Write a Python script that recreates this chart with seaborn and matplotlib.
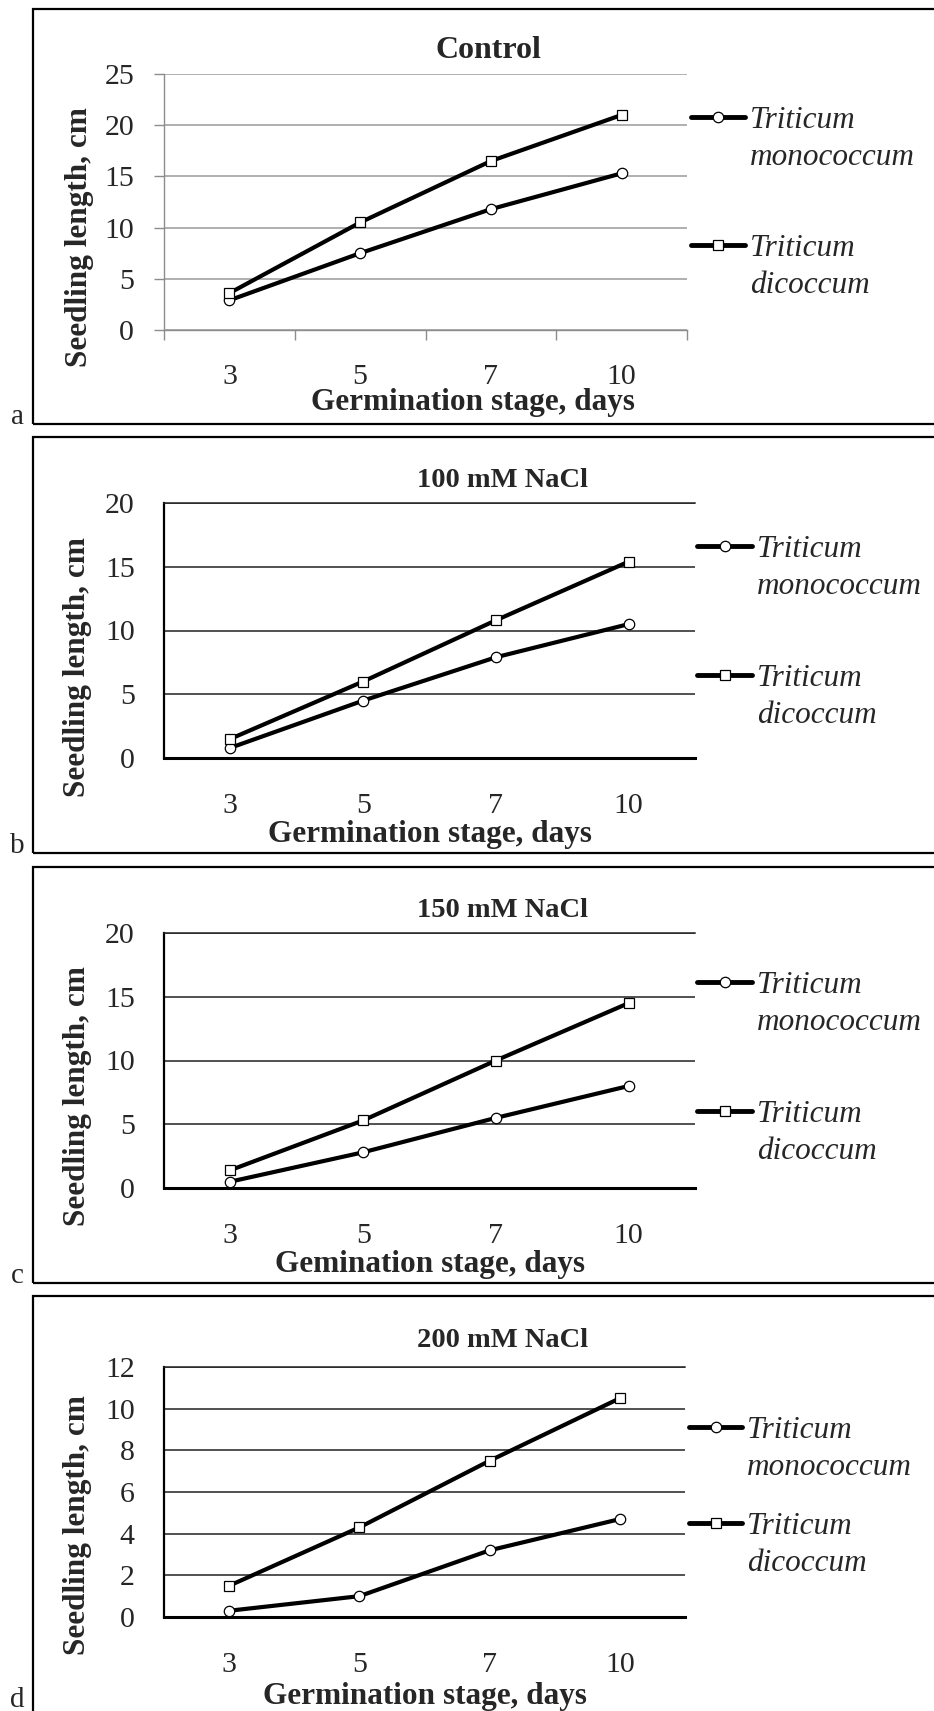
import matplotlib.pyplot as plt
from matplotlib.lines import Line2D
from matplotlib.patches import Rectangle
import seaborn as sns
import pandas as pd

# ---- data ----
days = ['3', '5', '7', '10']
species = ['monococcum', 'dicoccum']

control_mono = [2.9, 7.5, 11.8, 15.3]
control_di = [3.6, 10.5, 16.5, 21.0]
nacl100_mono = [0.8, 4.5, 7.9, 10.5]
nacl100_di = [1.5, 6.0, 10.8, 15.4]
nacl150_mono = [0.5, 2.8, 5.5, 8.0]
nacl150_di = [1.4, 5.3, 10.0, 14.5]
nacl200_mono = [0.3, 1.0, 3.2, 4.7]
nacl200_di = [1.5, 4.3, 7.5, 10.5]

titles = ['Control', '100 mM NaCl', '150 mM NaCl', '200 mM NaCl']
xlabels = ['Germination stage, days', 'Germination stage, days',
           'Gemination stage, days', 'Germination stage, days']
letters = ['a', 'b', 'c', 'd']
y_max = [25, 20, 20, 12]
y_step = [5, 5, 5, 2]

series = [(control_mono, control_di), (nacl100_mono, nacl100_di),
          (nacl150_mono, nacl150_di), (nacl200_mono, nacl200_di)]

# ---- layout in pixels (figure is 934 x 1711) ----
W, H = 934, 1711
layout = [
    dict(box=(9, 424), ax=(164, 74, 687, 330), title=(488, 58, 23), xlab=(473, 410),
         ylab=(79, 237), key=(691, 745, 750, 117, 245), light=True, letter_y=424),
    dict(box=(437, 853), ax=(164, 503, 695, 758), title=(503, 487, 20.5), xlab=(430, 842),
         ylab=(78, 667), key=(697, 752, 757, 546, 675), light=False, letter_y=853),
    dict(box=(867, 1283), ax=(164, 933, 695, 1188), title=(503, 917, 20.5), xlab=(430, 1272),
         ylab=(78, 1096), key=(697, 752, 757, 982, 1111), light=False, letter_y=1283),
    dict(box=(1296, 1740), ax=(164, 1367, 685, 1617), title=(503, 1347, 20.5), xlab=(425, 1704),
         ylab=(78, 1525), key=(689, 742, 747, 1427, 1523), light=False, letter_y=1707),
]


def fx(x):
    return x / W


def fy(y):
    return 1 - y / H


sns.set_style('white')
plt.rcParams['font.family'] = ['Liberation Serif', 'DejaVu Serif']

fig = plt.figure(figsize=(W / 100, H / 100), dpi=100)

for i, lay in enumerate(layout):
    mono, di = series[i]
    df = pd.DataFrame({
        'day': days * 2,
        'length': list(mono) + list(di),
        'species': [species[0]] * len(days) + [species[1]] * len(days),
    })

    l, t, r, b = lay['ax']
    ax = fig.add_axes([fx(l), fy(b), (r - l) / W, (b - t) / H])
    sns.lineplot(data=df, x='day', y='length', style='species',
                 markers={'monococcum': 'o', 'dicoccum': 's'}, dashes=False,
                 color='black', lw=3, markersize=7.5, markerfacecolor='white',
                 markeredgecolor='black', markeredgewidth=0.9, sort=False,
                 legend=False, ax=ax)

    ax.set_xlim(-0.5, len(days) - 0.5)
    ax.set_ylim(0, y_max[i])
    ax.set_yticks(range(0, y_max[i] + 1, y_step[i]))
    ax.set_xticks(range(len(days)))
    ax.set_xticklabels(days)
    ax.set_xlabel('')
    ax.set_ylabel('')

    if lay['light']:
        gcol, scol = '#9a9a9a', '#8c8c8c'
        ax.yaxis.grid(True, color=gcol, lw=1.1)
        for s in ['top', 'right']:
            ax.spines[s].set_visible(False)
        for s in ['left', 'bottom']:
            ax.spines[s].set_color(scol)
            ax.spines[s].set_linewidth(1.0)
        ax.set_xticks([k - 0.5 for k in range(len(days) + 1)], minor=True)
        ax.tick_params(axis='x', which='minor', direction='out', length=7.5,
                       width=1.0, color=scol, bottom=True)
        ax.tick_params(axis='x', which='major', length=0, pad=39, labelsize=21.5)
        ax.tick_params(axis='y', direction='out', length=7.5, width=1.0,
                       color=scol, left=True, pad=14, labelsize=21.5)
    else:
        ax.yaxis.grid(True, color='#222222', lw=1.1)
        ax.spines['top'].set_visible(True)
        ax.spines['top'].set_color('#222222')
        ax.spines['top'].set_linewidth(1.1)
        ax.spines['right'].set_visible(False)
        ax.spines['left'].set_color('black')
        ax.spines['left'].set_linewidth(1.6)
        ax.spines['bottom'].set_color('black')
        ax.spines['bottom'].set_linewidth(2.2)
        ax.tick_params(axis='x', length=0, pad=39.5, labelsize=21.5)
        ax.tick_params(axis='y', length=0, pad=21, labelsize=21.5)
    ax.set_axisbelow(True)
    plt.setp(ax.get_xticklabels(), va='baseline')

    # panel frame and letter
    top, bottom = lay['box']
    fig.add_artist(Rectangle((fx(33), fy(bottom)), (960 - 33) / W, (bottom - top) / H,
                             transform=fig.transFigure, fill=False, lw=1.6,
                             edgecolor='black', clip_on=False))
    fig.text(fx(17), fy(lay['letter_y']), letters[i], ha='center', va='baseline',
             fontsize=21)

    # title and axis labels
    tx, ty, ts = lay['title']
    fig.text(fx(tx), fy(ty), titles[i], ha='center', va='baseline',
             fontsize=ts, fontweight='bold')
    xx, xy = lay['xlab']
    fig.text(fx(xx), fy(xy), xlabels[i], ha='center', va='baseline',
             fontsize=22.5, fontweight='bold')
    yx, yy = lay['ylab']
    fig.text(fx(yx), fy(yy), 'Seedling length, cm', ha='center', va='center',
             rotation=90, fontsize=22.5, fontweight='bold')

    # legend keys drawn beside the plot area
    x0, x1, txt_x, y1, y2 = lay['key']
    for ky, mk, name in [(y1, 'o', species[0]), (y2, 's', species[1])]:
        fig.add_artist(Line2D([fx(x0), fx((x0 + x1) / 2), fx(x1)], [fy(ky)] * 3,
                              transform=fig.transFigure, color='black', lw=3.5,
                              marker=mk, markevery=[1], ms=7.5, mfc='white',
                              mec='black', mew=0.9))
        fig.text(fx(txt_x), fy(ky + 11), 'Triticum', style='italic',
                 fontsize=22.5, va='baseline', ha='left')
        fig.text(fx(txt_x), fy(ky + 48), name, style='italic',
                 fontsize=22.5, va='baseline', ha='left')

fig.savefig('out.png', dpi=100, facecolor='white')
